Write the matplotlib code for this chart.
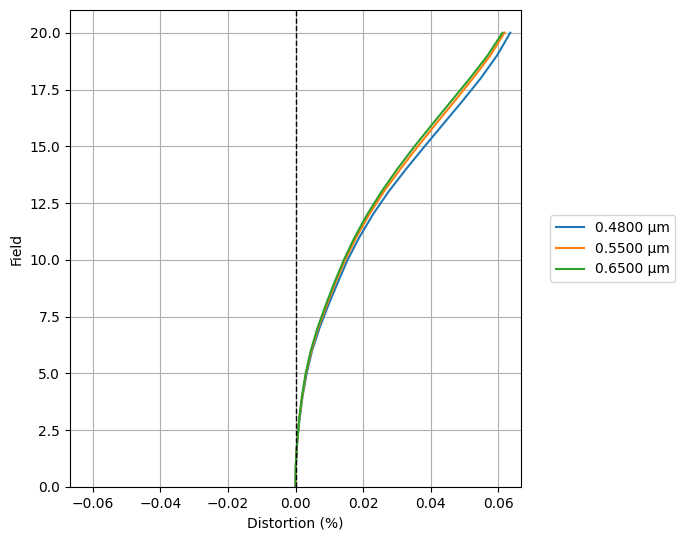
import numpy as np
import matplotlib
matplotlib.use("Agg")
import matplotlib.pyplot as plt

# field points and distortion (%) per wavelength
field = list(range(0, 21))
dist_480 = [0, 0.0001, 0.0005, 0.0012, 0.0021, 0.0033, 0.0049, 0.0071, 0.0097, 0.0125,
            0.0154, 0.0189, 0.0229, 0.0275, 0.0327, 0.0382, 0.0438, 0.0494, 0.0548, 0.0596,
            0.0635]
dist_550 = [0, 0.0001, 0.0005, 0.0011, 0.0020, 0.0031, 0.0047, 0.0067, 0.0092, 0.0118,
            0.0147, 0.0180, 0.0218, 0.0261, 0.0310, 0.0362, 0.0416, 0.0471, 0.0525, 0.0576,
            0.0618]
dist_650 = [0, 0.0001, 0.0005, 0.0011, 0.0019, 0.0030, 0.0045, 0.0065, 0.0089, 0.0115,
            0.0143, 0.0175, 0.0212, 0.0254, 0.0301, 0.0352, 0.0406, 0.0461, 0.0516, 0.0568,
            0.0612]
labels = ["0.4800 µm", "0.5500 µm", "0.6500 µm"]

fig = plt.figure(figsize=(6.85, 5.4), dpi=100)
ax = fig.add_axes([70 / 685, 53 / 540, 451 / 685, 477 / 540])

for d, lab in zip([dist_480, dist_550, dist_650], labels):
    ax.plot(d, field, label=lab)

ax.axvline(0, color="black", linestyle="--", linewidth=1)

xmax = max(max(dist_480), max(dist_550), max(dist_650)) * 1.05
ax.set_xlim(-xmax, xmax)
ax.set_ylim(0, max(field) * 1.05)
ax.set_xlabel("Distortion (%)")
ax.set_ylabel("Field")
ax.grid(True)
ax.legend(loc="center left", bbox_to_anchor=(1.05, 0.5))

fig.savefig("out.png", dpi=100)
